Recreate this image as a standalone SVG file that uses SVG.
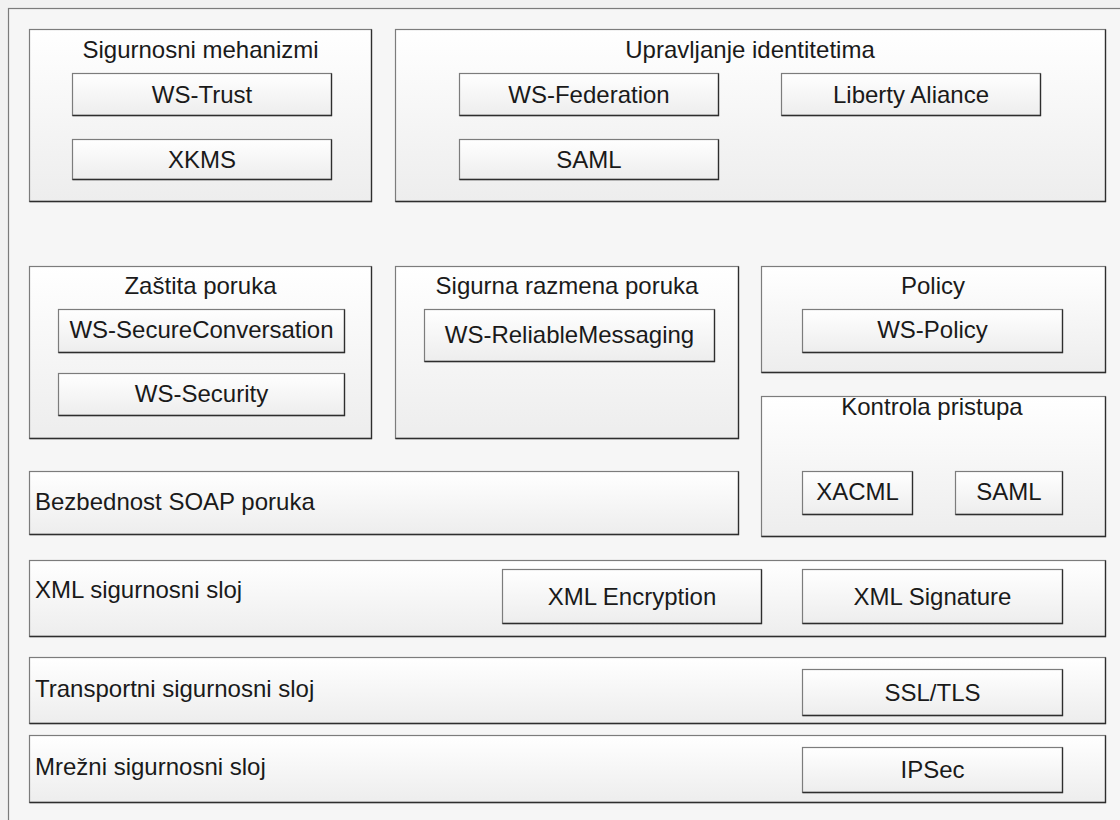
<svg xmlns="http://www.w3.org/2000/svg" width="1120" height="820" viewBox="0 0 1120 820">
<defs>
<linearGradient id="g" x1="0" y1="0" x2="0" y2="1">
<stop offset="0" stop-color="#ffffff"/>
<stop offset="1" stop-color="#ededed"/>
</linearGradient>
<style>
.b{fill:url(#g);stroke:#7c7c7c;stroke-width:1.2}
.e{fill:none;stroke:#2e2e2e;stroke-width:1.3}
.t{font-family:"Liberation Sans",Arial,sans-serif;font-size:24px;fill:#1a1a1a}
.c{text-anchor:middle}
</style>
</defs>
<rect x="0" y="0" width="1120" height="820" fill="#f2f2f2"/>
<rect x="8.5" y="8.5" width="1130" height="830" fill="#f6f6f6" stroke="#7c7c7c" stroke-width="1.2"/>

<g id="sigurnosni-mehanizmi">
<rect class="b" x="29.5" y="29.5" width="342" height="172"/>
<path class="e" d="M371.5 29.5V201.5H29.5"/>
<text class="t c" x="200.5" y="58">Sigurnosni mehanizmi</text>
<g id="ws-trust"><rect class="b" x="72.5" y="73.5" width="259" height="42"/><path class="e" d="M331.5 73.5V115.5H72.5"/><text class="t c" x="202" y="102.5">WS-Trust</text></g>
<g id="xkms"><rect class="b" x="72.5" y="139.5" width="259" height="40"/><path class="e" d="M331.5 139.5V179.5H72.5"/><text class="t c" x="202" y="167.5">XKMS</text></g>
</g>

<g id="upravljanje-identitetima">
<rect class="b" x="395.5" y="29.5" width="710" height="172"/>
<path class="e" d="M1105.5 29.5V201.5H395.5"/>
<text class="t c" x="750" y="58">Upravljanje identitetima</text>
<g id="ws-federation"><rect class="b" x="459.5" y="73.5" width="259" height="42"/><path class="e" d="M718.5 73.5V115.5H459.5"/><text class="t c" x="589" y="102.5">WS-Federation</text></g>
<g id="liberty-aliance"><rect class="b" x="781.5" y="73.5" width="259" height="42"/><path class="e" d="M1040.5 73.5V115.5H781.5"/><text class="t c" x="911" y="102.5">Liberty Aliance</text></g>
<g id="saml-1"><rect class="b" x="459.5" y="139.5" width="259" height="40"/><path class="e" d="M718.5 139.5V179.5H459.5"/><text class="t c" x="589" y="167.5">SAML</text></g>
</g>

<g id="zastita-poruka">
<rect class="b" x="29.5" y="266.5" width="342" height="172"/>
<path class="e" d="M371.5 266.5V438.5H29.5"/>
<text class="t c" x="200.5" y="294">Zaštita poruka</text>
<g id="ws-secureconversation"><rect class="b" x="58.5" y="309.5" width="286" height="43"/><path class="e" d="M344.5 309.5V352.5H58.5"/><text class="t c" x="201.5" y="337.5">WS-SecureConversation</text></g>
<g id="ws-security"><rect class="b" x="58.5" y="373.5" width="286" height="42"/><path class="e" d="M344.5 373.5V415.5H58.5"/><text class="t c" x="201.5" y="401.5">WS-Security</text></g>
</g>

<g id="sigurna-razmena-poruka">
<rect class="b" x="395.5" y="266.5" width="343" height="172"/>
<path class="e" d="M738.5 266.5V438.5H395.5"/>
<text class="t c" x="567" y="294">Sigurna razmena poruka</text>
<g id="ws-reliablemessaging"><rect class="b" x="424.5" y="309.5" width="290" height="52"/><path class="e" d="M714.5 309.5V361.5H424.5"/><text class="t c" x="569.5" y="343">WS-ReliableMessaging</text></g>
</g>

<g id="policy">
<rect class="b" x="761.5" y="266.5" width="344" height="106"/>
<path class="e" d="M1105.5 266.5V372.5H761.5"/>
<text class="t c" x="933" y="294">Policy</text>
<g id="ws-policy"><rect class="b" x="802.5" y="309.5" width="260" height="43"/><path class="e" d="M1062.5 309.5V352.5H802.5"/><text class="t c" x="932.5" y="338">WS-Policy</text></g>
</g>

<g id="kontrola-pristupa">
<rect class="b" x="761.5" y="396.5" width="344" height="140"/>
<path class="e" d="M1105.5 396.5V536.5H761.5"/>
<text class="t c" x="932" y="415">Kontrola pristupa</text>
<g id="xacml"><rect class="b" x="802.5" y="471.5" width="110" height="43"/><path class="e" d="M912.5 471.5V514.5H802.5"/><text class="t c" x="857.5" y="499.5">XACML</text></g>
<g id="saml-2"><rect class="b" x="955.5" y="471.5" width="107" height="43"/><path class="e" d="M1062.5 471.5V514.5H955.5"/><text class="t c" x="1009" y="499.5">SAML</text></g>
</g>

<g id="bezbednost-soap-poruka">
<rect class="b" x="29.5" y="471.5" width="709" height="63"/>
<path class="e" d="M738.5 471.5V534.5H29.5"/>
<text class="t" x="35" y="510">Bezbednost SOAP poruka</text>
</g>

<g id="xml-sigurnosni-sloj">
<rect class="b" x="29.5" y="560.5" width="1076" height="76"/>
<path class="e" d="M1105.5 560.5V636.5H29.5"/>
<text class="t" x="35" y="598">XML sigurnosni sloj</text>
<g id="xml-encryption"><rect class="b" x="502.5" y="569.5" width="259" height="54"/><path class="e" d="M761.5 569.5V623.5H502.5"/><text class="t c" x="632" y="604.5">XML Encryption</text></g>
<g id="xml-signature"><rect class="b" x="802.5" y="569.5" width="260" height="54"/><path class="e" d="M1062.5 569.5V623.5H802.5"/><text class="t c" x="932.5" y="604.5">XML Signature</text></g>
</g>

<g id="transportni-sigurnosni-sloj">
<rect class="b" x="29.5" y="657.5" width="1076" height="66"/>
<path class="e" d="M1105.5 657.5V723.5H29.5"/>
<text class="t" x="35" y="697">Transportni sigurnosni sloj</text>
<g id="ssl-tls"><rect class="b" x="802.5" y="669.5" width="260" height="46"/><path class="e" d="M1062.5 669.5V715.5H802.5"/><text class="t c" x="932.5" y="700.5">SSL/TLS</text></g>
</g>

<g id="mrezni-sigurnosni-sloj">
<rect class="b" x="29.5" y="735.5" width="1076" height="67"/>
<path class="e" d="M1105.5 735.5V802.5H29.5"/>
<text class="t" x="35" y="775">Mrežni sigurnosni sloj</text>
<g id="ipsec"><rect class="b" x="802.5" y="747.5" width="260" height="45"/><path class="e" d="M1062.5 747.5V792.5H802.5"/><text class="t c" x="932.5" y="778">IPSec</text></g>
</g>

<g id="connectors"></g>
</svg>
